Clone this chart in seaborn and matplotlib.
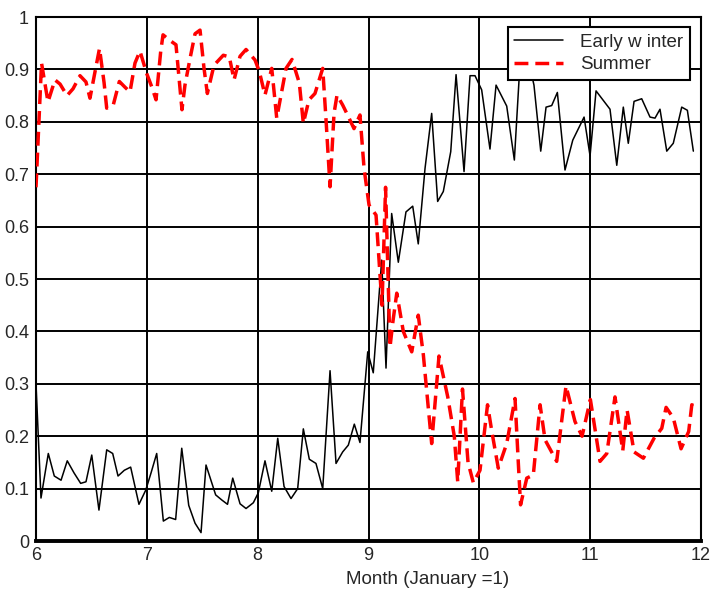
import matplotlib
matplotlib.use('Agg')
import matplotlib.pyplot as plt
import seaborn as sns
import pandas as pd

# values
winter_month = [6.00, 6.045, 6.111, 6.165, 6.226, 6.282, 6.343, 6.403, 6.451, 6.503,
                6.568, 6.638, 6.692, 6.740, 6.797, 6.854, 6.929, 6.990, 7.038, 7.089,
                7.149, 7.203, 7.260, 7.315, 7.378, 7.435, 7.489, 7.534, 7.621, 7.678,
                7.728, 7.775, 7.841, 7.895, 7.961, 8.006, 8.066, 8.127, 8.181, 8.238,
                8.301, 8.361, 8.412, 8.466, 8.526, 8.587, 8.653, 8.707, 8.767, 8.818,
                8.872, 8.923, 8.993, 9.043, 9.119, 9.158, 9.209, 9.269, 9.338, 9.399,
                9.449, 9.510, 9.570, 9.624, 9.675, 9.742, 9.790, 9.862, 9.916, 9.961,
                10.021, 10.096, 10.151, 10.247, 10.316, 10.372, 10.430, 10.493, 10.554, 10.602,
                10.653, 10.704, 10.773, 10.843, 10.945, 10.999, 11.053, 11.179, 11.240, 11.299,
                11.344, 11.396, 11.465, 11.540, 11.585, 11.630, 11.691, 11.750, 11.826, 11.877,
                11.931]
winter_value = [0.300, 0.082, 0.167, 0.124, 0.116, 0.153, 0.130, 0.110, 0.113, 0.164,
                0.059, 0.174, 0.167, 0.124, 0.135, 0.141, 0.070, 0.097, 0.130, 0.167,
                0.038, 0.045, 0.041, 0.177, 0.068, 0.034, 0.016, 0.145, 0.088, 0.078,
                0.070, 0.120, 0.071, 0.062, 0.073, 0.092, 0.153, 0.095, 0.196, 0.104,
                0.081, 0.100, 0.214, 0.156, 0.148, 0.100, 0.325, 0.148, 0.170, 0.183,
                0.223, 0.188, 0.361, 0.321, 0.536, 0.330, 0.625, 0.532, 0.628, 0.639,
                0.567, 0.711, 0.816, 0.648, 0.667, 0.743, 0.890, 0.705, 0.888, 0.888,
                0.861, 0.748, 0.870, 0.830, 0.727, 0.930, 0.930, 0.870, 0.744, 0.828,
                0.831, 0.856, 0.708, 0.765, 0.809, 0.735, 0.859, 0.824, 0.717, 0.828,
                0.759, 0.839, 0.844, 0.809, 0.807, 0.824, 0.744, 0.759, 0.828, 0.822,
                0.744]

summer_month = [6.000, 6.050, 6.108, 6.171, 6.217, 6.280, 6.334, 6.397, 6.451, 6.487,
                6.532, 6.573, 6.614, 6.638, 6.697, 6.752, 6.803, 6.848, 6.893, 6.938,
                6.999, 7.044, 7.083, 7.125, 7.146, 7.203, 7.263, 7.317, 7.344, 7.390,
                7.435, 7.480, 7.516, 7.546, 7.606, 7.690, 7.744, 7.787, 7.841, 7.895,
                7.976, 8.015, 8.066, 8.127, 8.172, 8.256, 8.310, 8.376, 8.412, 8.463,
                8.517, 8.587, 8.617, 8.653, 8.689, 8.716, 8.767, 8.818, 8.869, 8.923,
                8.960, 9.005, 9.068, 9.122, 9.154, 9.194, 9.221, 9.255, 9.314, 9.390,
                9.449, 9.495, 9.540, 9.570, 9.636, 9.715, 9.774, 9.805, 9.848, 9.898,
                9.946, 10.006, 10.074, 10.112, 10.171, 10.247, 10.322, 10.352, 10.372, 10.428,
                10.487, 10.548, 10.593, 10.698, 10.782, 10.863, 10.927, 11.002, 11.089, 11.150,
                11.224, 11.294, 11.333, 11.396, 11.480, 11.576, 11.646, 11.685, 11.750, 11.820,
                11.889, 11.917, 11.937]
summer_value = [0.675, 0.912, 0.838, 0.880, 0.872, 0.850, 0.863, 0.888, 0.876, 0.845,
                0.895, 0.940, 0.875, 0.826, 0.832, 0.877, 0.866, 0.857, 0.912, 0.935,
                0.892, 0.867, 0.842, 0.934, 0.966, 0.956, 0.947, 0.823, 0.870, 0.921,
                0.968, 0.975, 0.902, 0.854, 0.908, 0.927, 0.924, 0.880, 0.925, 0.938,
                0.918, 0.896, 0.851, 0.902, 0.807, 0.902, 0.919, 0.874, 0.797, 0.842,
                0.854, 0.902, 0.803, 0.676, 0.816, 0.851, 0.832, 0.810, 0.787, 0.813,
                0.711, 0.641, 0.622, 0.450, 0.675, 0.370, 0.420, 0.473, 0.400, 0.361,
                0.431, 0.355, 0.253, 0.186, 0.353, 0.275, 0.200, 0.113, 0.290, 0.150,
                0.111, 0.135, 0.260, 0.210, 0.139, 0.186, 0.272, 0.148, 0.069, 0.120,
                0.126, 0.260, 0.193, 0.152, 0.296, 0.228, 0.200, 0.270, 0.152, 0.167,
                0.275, 0.172, 0.250, 0.170, 0.158, 0.196, 0.215, 0.255, 0.235, 0.176,
                0.209, 0.260, 0.258]

x_ticks = [6, 7, 8, 9, 10, 11, 12]
y_ticks = [0, 0.1, 0.2, 0.3, 0.4, 0.5, 0.6, 0.7, 0.8, 0.9, 1.0]
y_tick_labels = ['0', '0.1', '0.2', '0.3', '0.4', '0.5', '0.6', '0.7', '0.8', '0.9', '1']

winter = pd.DataFrame({'Month': winter_month, 'Value': winter_value})
summer = pd.DataFrame({'Month': summer_month, 'Value': summer_value})

sns.set_style('white')
plt.rcParams['font.family'] = ['Liberation Sans', 'DejaVu Sans']

fig = plt.figure(figsize=(7.12, 5.97), dpi=100)
ax = fig.add_axes([36 / 712, 1 - 541 / 597, 665 / 712, 524 / 597])

sns.lineplot(data=winter, x='Month', y='Value', ax=ax, color='black', linewidth=1.1,
             label='Early w inter', zorder=3)
sns.lineplot(data=summer, x='Month', y='Value', ax=ax, color='#ff0000', linewidth=2.5,
             label='Summer', zorder=4)
ax.lines[1].set_dashes([4, 2])

ax.set_xlim(6, 12)
ax.set_ylim(0, 1)
ax.set_xticks(x_ticks)
ax.set_xticklabels([str(t) for t in x_ticks], fontsize=13)
ax.set_yticks(y_ticks)
ax.set_yticklabels(y_tick_labels, fontsize=13)
ax.tick_params(axis='x', length=0, pad=4)
ax.tick_params(axis='y', length=0, pad=5)
ax.grid(True, color='black', linewidth=1.4)
ax.set_axisbelow(True)
for side, sp in ax.spines.items():
    sp.set_color('black')
    sp.set_linewidth(1.5)
ax.spines['bottom'].set_linewidth(2.8)

ax.set_xlabel('Month (January =1)', fontsize=13.5)
ax.xaxis.set_label_coords(0.589, -0.058)
ax.set_ylabel('')

leg = ax.legend(loc='upper right', bbox_to_anchor=(0.983, 0.981), borderaxespad=0,
                fontsize=13.5, frameon=True, fancybox=False, framealpha=1,
                edgecolor='black', borderpad=0.35, labelspacing=0.3,
                handlelength=2.6, handletextpad=0.9)
leg.get_frame().set_linewidth(1.5)

fig.savefig('out.png', dpi=100)
